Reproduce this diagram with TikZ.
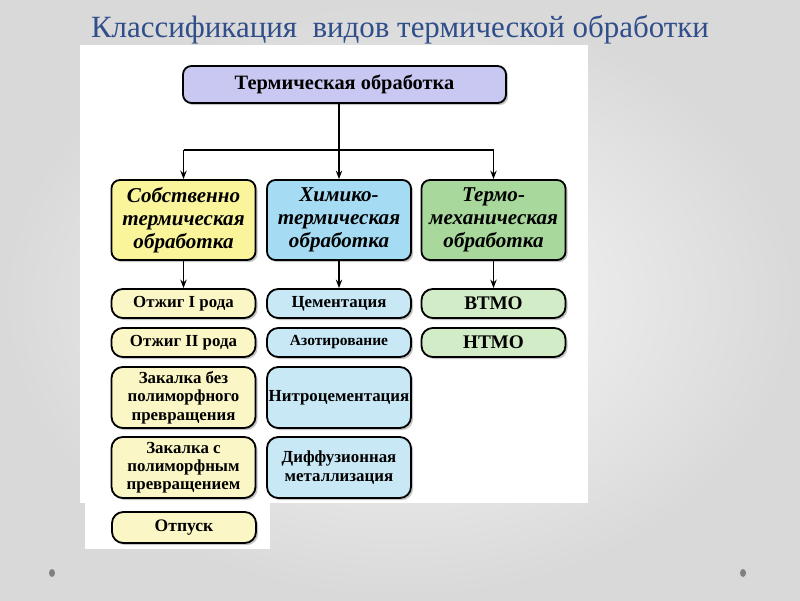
\documentclass[tikz,border=0pt]{standalone}
\usepackage{fontspec}
\setmainfont{Liberation Serif}
\usetikzlibrary{arrows.meta,shadows}

\definecolor{titleblue}{HTML}{2F4E8A}
\definecolor{lavbox}{HTML}{C8C8F2}
\definecolor{yelbox}{HTML}{FAF59A}
\definecolor{yellist}{HTML}{FAF6C6}
\definecolor{bluebox}{HTML}{A6DCF3}
\definecolor{bluelist}{HTML}{C8E8F6}
\definecolor{grnbox}{HTML}{A8D89C}
\definecolor{grnlist}{HTML}{D2ECC8}

\tikzset{
  card/.style={draw=black, line width=1.3pt, rounded corners=6pt, align=center,
    drop shadow={shadow xshift=1.5pt, shadow yshift=-1.5pt, opacity=0.45},
    inner sep=1pt, font=\bfseries},
  headbox/.style={card, minimum width=323*0.025cm, minimum height=37*0.025cm, fill=lavbox,
    font=\bfseries\fontsize{14.5}{16}\selectfont},
  groupbox/.style={card, minimum width=144*0.025cm, minimum height=80*0.025cm,
    font=\bfseries\itshape\fontsize{15}{16.5}\selectfont},
  itembox/.style={card, rounded corners=8pt, minimum width=144*0.025cm,
    font=\bfseries\fontsize{12}{13}\selectfont},
  arr/.style={line width=1pt, -{Stealth[length=6pt,width=4.5pt]}}
}

\begin{document}
\begin{tikzpicture}[x=0.025cm, y=-0.025cm]
% background of the slide
\shade[inner color=white!96!gray, outer color=black!15] (0,0) rectangle (800,600);
\useasboundingbox (0,0) rectangle (800,600);
\node[font=\fontsize{22}{24}\selectfont, text=titleblue] (title) at (400,30) {Классификация\ \ видов термической обработки};

% white panel
\fill[white] (80,45) rectangle (588,503);
\fill[white] (85,503) rectangle (270,549);

% top
\node[headbox] (top) at (344.5,84.5) {Термическая обработка};

% groups
\node[groupbox, fill=yelbox] (own) at (183.5,220) {Собственно\\термическая\\обработка};
\node[groupbox, fill=bluebox] (chem) at (339,220) {Химико-\\термическая\\обработка};
\node[groupbox, fill=grnbox] (mech) at (493.5,220) {Термо-\\механическая\\обработка};

% first column
\node[itembox, fill=yellist, minimum height=29*0.025cm] (ann1) at (183.5,303.5) {Отжиг I рода};
\node[itembox, fill=yellist, minimum height=29*0.025cm] (ann2) at (183.5,342.5) {Отжиг II рода};
\node[itembox, fill=yellist, minimum height=61*0.025cm] (hard1) at (183.5,397.5) {Закалка без\\полиморфного\\превращения};
\node[itembox, fill=yellist, minimum height=61*0.025cm] (hard2) at (183.5,467.5) {Закалка с\\полиморфным\\превращением};
\node[itembox, fill=yellist, minimum height=31*0.025cm, font=\bfseries\fontsize{12.5}{14}\selectfont] (temp) at (184,527.5) {Отпуск};

% second column
\node[itembox, fill=bluelist, minimum height=29*0.025cm] (cem) at (339,303.5) {Цементация};
\node[itembox, fill=bluelist, minimum height=29*0.025cm, font=\bfseries\fontsize{11}{13}\selectfont] (nitr) at (339,342.5) {Азотирование};
\node[itembox, fill=bluelist, minimum height=61*0.025cm] (ncem) at (339,397.5) {Нитроцементация};
\node[itembox, fill=bluelist, minimum height=61*0.025cm] (diff) at (339,467.5) {Диффузионная\\металлизация};

% third column
\node[itembox, fill=grnlist, minimum height=29*0.025cm, font=\bfseries\fontsize{13.7}{15}\selectfont] (htmo) at (493.5,303.5) {ВТМО};
\node[itembox, fill=grnlist, minimum height=29*0.025cm, font=\bfseries\fontsize{13.7}{15}\selectfont] (ltmo) at (493.5,342.5) {НТМО};

% connectors
\coordinate (bus) at (339,150);
\draw[line width=1pt] (bus |- top.south) -- (bus);
\draw[line width=1pt] (bus -| own) -- (bus -| mech);
\draw[arr] (bus -| own) -- (own.north);
\draw[arr] (bus) -- (chem.north);
\draw[arr] (bus -| mech) -- (mech.north);
\draw[arr] (own) -- (ann1);
\draw[arr] (chem) -- (cem);
\draw[arr] (mech) -- (htmo);

% dots
\fill[gray] (52,573) ellipse (3 and 4);
\fill[gray] (743,573) ellipse (3 and 4);
\end{tikzpicture}
\end{document}
